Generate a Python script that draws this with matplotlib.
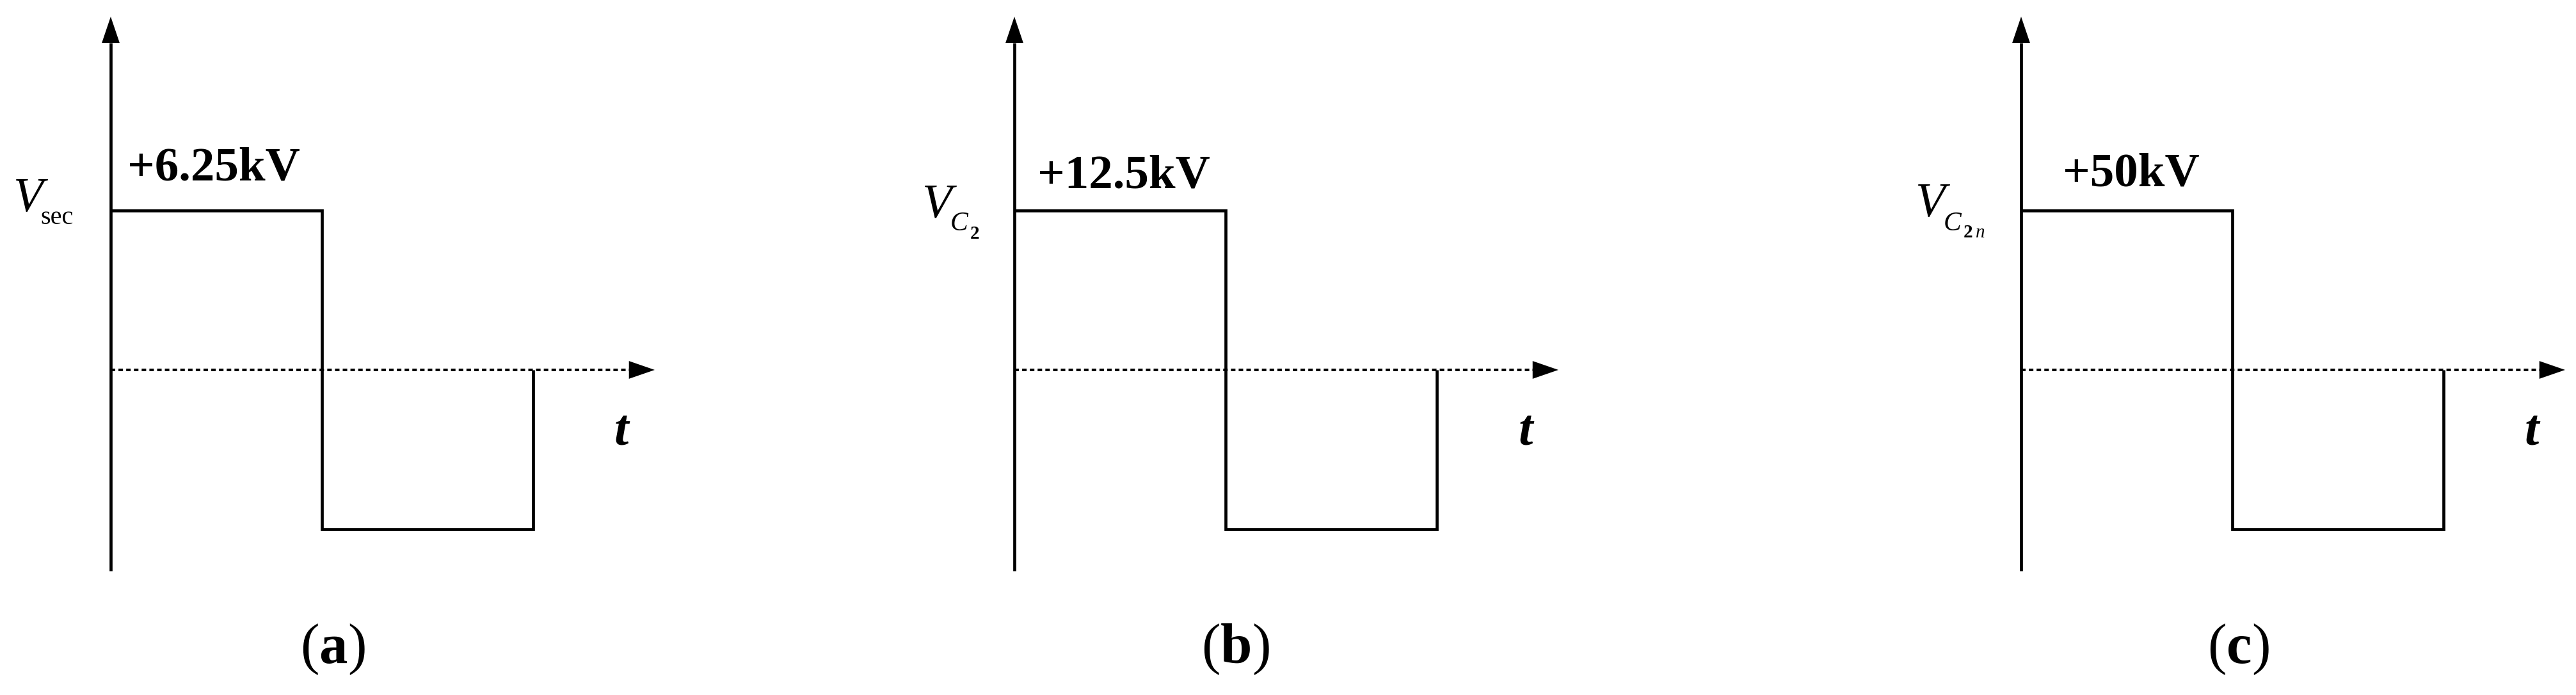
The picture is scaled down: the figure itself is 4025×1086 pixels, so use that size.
import matplotlib
matplotlib.use("Agg")
import matplotlib.pyplot as plt

plt.rcParams["mathtext.fontset"] = "custom"
plt.rcParams["mathtext.rm"] = "Liberation Serif"
plt.rcParams["mathtext.bf"] = "Liberation Serif:bold"
plt.rcParams["mathtext.it"] = "Liberation Serif:italic"

# ---------------- data ----------------
panel_letters = ["a", "b", "c"]
peak_kv = [6.25, 12.5, 50.0]                 # amplitude of each square wave (kV)
wave_t = [0.0, 0.5, 0.5, 1.0, 1.0]           # time, in periods
wave_sign = [1, 1, -1, -1, 0]                # +V / -V levels of the square wave
y_symbols = [("V", "sec", None, None), ("V", "C", "2", None), ("V", "C", "2", "n")]

# ---------------- layout ----------------
W, H = 4025, 1086
SERIF = "Liberation Serif"
fig = plt.figure(figsize=(W / 100, H / 100), dpi=100)

axis_px = [173, 1585, 3158]      # x pixel of each vertical axis
AX_W, TOP, BOT = 850, 26, 892    # axes box (pixels)
PERIOD_PX, ZERO_PX, AMP_PX = 660, 578, 249
HEAD_FRAC_Y = (BOT - 67) / (BOT - TOP)
HEAD_FRAC_X = (983 - 173) / AX_W

def fx(x):
    return x / W

def fy(y):
    return 1 - y / H

label_off = [(26, 282), (36, 293), (65, 291)]          # peak label offset from axis, baseline
sym_pos = [
    dict(V=(20, 330), s1=(63, 350, 29, "normal", "normal")),
    dict(V=(1440, 340), s1=(1485, 360, 30, "italic", "normal"), s2=(1516, 373), s3=None),
    dict(V=(2992, 338), s1=(3037, 360, 30, "italic", "normal"), s2=(3068, 371), s3=(3087, 371)),
]
t_pos = [(960, 696), (2373, 696), (3945, 696)]
cap_pos = [(520, 1036), (1930, 1036), (3497, 1036)]

for i, p in enumerate(peak_kv):
    x0 = axis_px[i]
    ax = fig.add_axes([fx(x0), (H - BOT) / H, AX_W / W, (BOT - TOP) / H])
    ax.set_xlim(0, AX_W / PERIOD_PX)
    ax.set_ylim(-(BOT - ZERO_PX) / AMP_PX * p, (ZERO_PX - TOP) / AMP_PX * p)
    ax.axis("off")

    # square wave
    ax.plot(wave_t, [s * p for s in wave_sign], color="black", lw=3.4,
            solid_joinstyle="miter", solid_capstyle="butt", clip_on=False, zorder=3)

    # vertical axis with arrow head
    ax.plot([0, 0], [0, HEAD_FRAC_Y], transform=ax.transAxes, color="black", lw=3.4,
            solid_capstyle="butt", clip_on=False, zorder=4)
    ax.annotate("", xy=(0, 1), xytext=(0, HEAD_FRAC_Y), xycoords="axes fraction",
                arrowprops=dict(arrowstyle="-|>,head_length=29.5,head_width=10",
                                mutation_scale=1, lw=0, fc="black", ec="none",
                                shrinkA=0, shrinkB=0), annotation_clip=False)

    # dashed time axis with arrow head
    tr = ax.get_yaxis_transform()
    ax.plot([0, HEAD_FRAC_X], [0, 0], transform=tr, color="black", lw=2.9,
            linestyle=(0, (1.75, 1.25)), dash_capstyle="butt", clip_on=False, zorder=2)
    ax.annotate("", xy=(1.0, 0), xytext=(HEAD_FRAC_X, 0), xycoords=tr,
                arrowprops=dict(arrowstyle="-|>,head_length=29,head_width=10",
                                mutation_scale=1, lw=0, fc="black", ec="none",
                                shrinkA=0, shrinkB=0), annotation_clip=False)

    # peak value label
    ox, by = label_off[i]
    fig.text(fx(x0 + ox), fy(by), f"+{p:g}kV", family=SERIF, fontsize=54,
             fontweight="bold", va="baseline", ha="left")

    # y symbol
    sym = y_symbols[i]
    sp = sym_pos[i]
    fig.text(fx(sp["V"][0]), fy(sp["V"][1]), sym[0], family=SERIF, fontsize=55,
             style="italic", va="baseline", ha="left")
    sx, sy, ss, sst, sw = sp["s1"]
    fig.text(fx(sx), fy(sy), sym[1], family=SERIF, fontsize=ss, style=sst,
             fontweight=sw, va="baseline", ha="left")
    if sym[2]:
        fig.text(fx(sp["s2"][0]), fy(sp["s2"][1]), sym[2], family=SERIF, fontsize=21,
                 fontweight="bold", va="baseline", ha="left")
    if sym[3]:
        fig.text(fx(sp["s3"][0]), fy(sp["s3"][1]), sym[3], family=SERIF, fontsize=21,
                 style="italic", va="baseline", ha="left")

    # time label
    fig.text(fx(t_pos[i][0]), fy(t_pos[i][1]), "t", family=SERIF, fontsize=58,
             style="italic", fontweight="bold", va="baseline", ha="left")

    # caption
    fig.text(fx(cap_pos[i][0]), fy(cap_pos[i][1]), "(" + r"$\mathbf{" + panel_letters[i] + "}$" + ")",
             family=SERIF, fontsize=64, va="baseline", ha="center")

fig.savefig("out.png", dpi=100, facecolor="white")
